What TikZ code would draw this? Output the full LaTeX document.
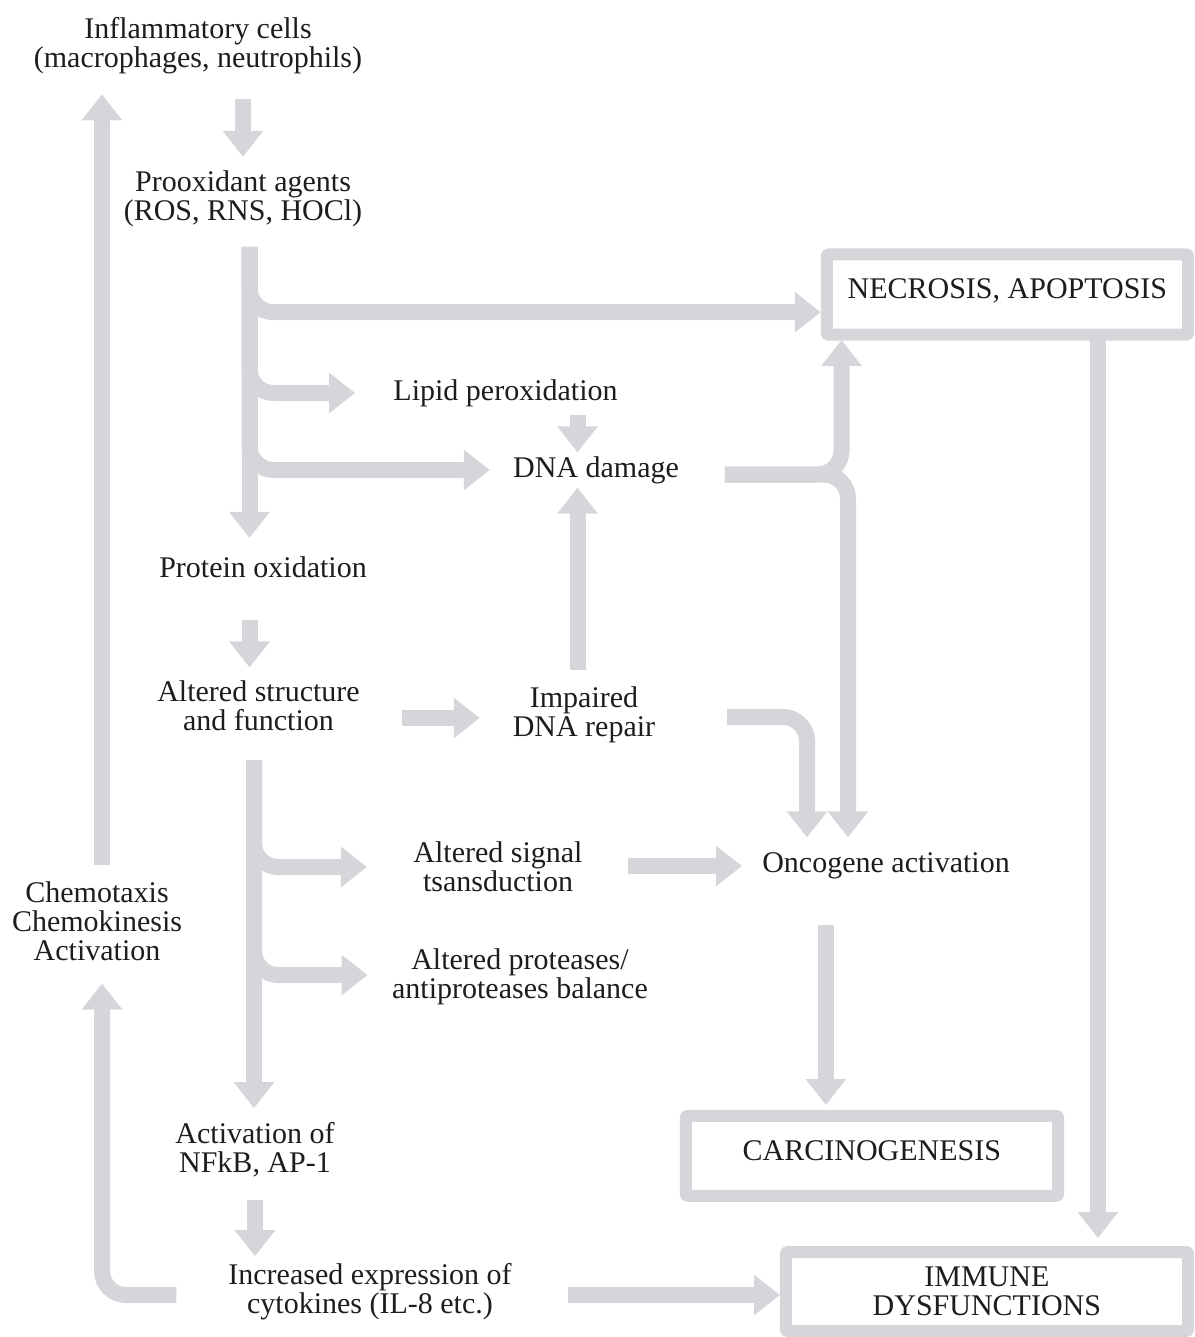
\documentclass[tikz,border=0pt]{standalone}
\usepackage{fontspec}
\setmainfont{Liberation Serif}
\usetikzlibrary{arrows.meta}

\definecolor{flowgray}{RGB}{213,214,218}
\definecolor{inkblack}{RGB}{30,28,29}

\begin{document}
\begin{tikzpicture}[x=1pt, y=-1pt,
    >={Triangle[width=39pt, length=26pt]},
    font=\fontsize{30}{29}\selectfont,
    flow/.style={->, draw=flowgray, line width=16pt},
    branch/.style={flow, rounded corners=24pt},
    txt/.style={align=center, inner sep=0pt, outer sep=0pt, text=inkblack},
    box/.style={draw=flowgray, fill=white, line width=12pt, rounded corners=2pt,
        inner sep=0pt, outer sep=0pt, align=center, text=inkblack}]

    % Page frame (same size as the figure)
    \useasboundingbox (0,0) rectangle (1194,1337);

    % Left column
    \node[txt] (inf) at (198,45.5) {Inflammatory cells\\(macrophages, neutrophils)};
    \node[txt] (pro) at (243,198.4) {Prooxidant agents\\(ROS, RNS, HOCl)};
    \node[txt] (prot) at (263,567) {Protein oxidation};
    \node[txt] (alt) at (258.5,706) {Altered structure\\and function};
    \node[txt] (che) at (97,921) {Chemotaxis\\Chemokinesis\\Activation};
    \node[txt] (nfk) at (255,1150) {Activation of\\NFkB, AP-1};
    \node[txt] (cyt) at (370,1292) {Increased expression of\\cytokines (IL-8 etc.)};

    % Middle column
    \node[txt] (lip) at (505.5,393) {Lipid peroxidation};
    \node[txt] (dna) at (596,470) {DNA damage};
    \node[txt] (imp) at (584,714.5) {Impaired\\DNA repair};
    \node[txt] (sig) at (498,867) {Altered signal\\tsansduction};
    \node[txt] (prt) at (520,977) {Altered proteases/\\antiproteases balance};
    \node[txt] (onc) at (886,866) {Oncogene activation};

    % Outcome boxes
    \node[box, minimum width=361.3pt, minimum height=80.2pt,
        text height=20pt, text depth=12.6pt] (nec) at (1007.4,294.6) {NECROSIS, APOPTOSIS};
    \node[box, minimum width=372.2pt, minimum height=80pt,
        text height=20pt, text depth=11.6pt] (car) at (871.9,1155.8) {CARCINOGENESIS};
    \node[box, minimum width=402.2pt, minimum height=79pt] (imm) at (986.9,1291.5) {IMMUNE\\DYSFUNCTIONS};

    % Spines and arrow ends
    \coordinate (s1) at (249.5,247);
    \coordinate (s2) at (254,760);
    \coordinate (cheup) at ([xshift=5pt]che.north);
    \coordinate (chedn) at ([xshift=5pt]che.south);
    \coordinate (dnain) at ([xshift=-18.5pt]dna.north);
    \coordinate (dnaout) at ([xshift=-18.5pt]dna.south);
    \coordinate (dnaright) at ([yshift=-4.5pt]dna.east);
    \coordinate (necup) at ([xshift=14.8pt]nec.south west);
    \coordinate (oncdn) at ([xshift=-38pt]onc.north);
    \coordinate (oncrep) at ([xshift=-79pt]onc.north);
    \coordinate (altright) at ([yshift=-12pt]alt.east);
    \coordinate (carin) at ([xshift=-46pt]car.north);
    \coordinate (immin) at ([xshift=111pt]imm.north);
    \coordinate (cytright) at ([yshift=-3pt]cyt.east);

    % Feedback loop
    \draw[flow, shorten <=16.5pt, shorten >=20.5pt] (cheup) -- (cheup |- inf.south);
    \draw[branch, shorten <=52pt, shorten >=23pt] ([yshift=-3pt]cyt.west) -| (chedn);

    % Prooxidant agents and their targets
    \draw[flow, shorten <=25.5pt, shorten >=13.5pt] (inf.south -| pro.north) -- (pro.north);
    \draw[flow, shorten >=18.5pt] (s1) -- (s1 |- prot.north);
    \draw[branch, shorten >=6pt] (s1) |- ([yshift=-17.6pt]nec.west);
    \draw[branch, shorten >=38.3pt] (s1) |- (lip.west);
    \draw[branch, shorten >=23.3pt] (s1) |- (dna.west);

    % DNA damage
    \draw[flow, shorten <=8.5pt, shorten >=4pt] (lip.south -| dnain) -- (dnain);
    \draw[flow, shorten <=16.5pt, shorten >=4pt] (imp.north -| dnaout) -- (dnaout);
    \draw[branch, shorten <=46pt, shorten >=5.3pt] (dnaright) -| (necup);
    \draw[branch, shorten <=46pt, shorten >=15.5pt] (dnaright) -| (oncdn);

    % Protein oxidation
    \draw[flow, shorten <=42pt, shorten >=13.5pt] (prot.south -| s1) -- (alt.north -| s1);
    \draw[flow, shorten <=42.5pt, shorten >=33pt] (altright) -- (altright -| imp.west);
    \draw[branch, shorten <=72pt, shorten >=15.5pt] ([yshift=-2.5pt]imp.east) -| (oncrep);
    \draw[flow, shorten >=14.5pt] (s2) -- (s2 |- nfk.north);
    \draw[branch, shorten >=46.5pt] (s2) |- (sig.west);
    \draw[branch, shorten >=24.6pt] (s2) |- ([yshift=2pt]prt.west);

    % Towards the outcomes
    \draw[flow, shorten <=45.5pt, shorten >=20.3pt] (onc.west -| sig.east) -- (onc.west);
    \draw[flow, shorten <=45.5pt, shorten >=10.8pt] (onc.south -| carin) -- (carin);
    \draw[flow, shorten >=14pt] (nec.south -| immin) -- (immin);
    \draw[flow, shorten <=22.8pt, shorten >=7.5pt] (nfk.south) -- (nfk.south |- cyt.north);
    \draw[flow, shorten <=56.4pt, shorten >=5.8pt] (cytright) -- (cytright -| imm.west);

\end{tikzpicture}
\end{document}
